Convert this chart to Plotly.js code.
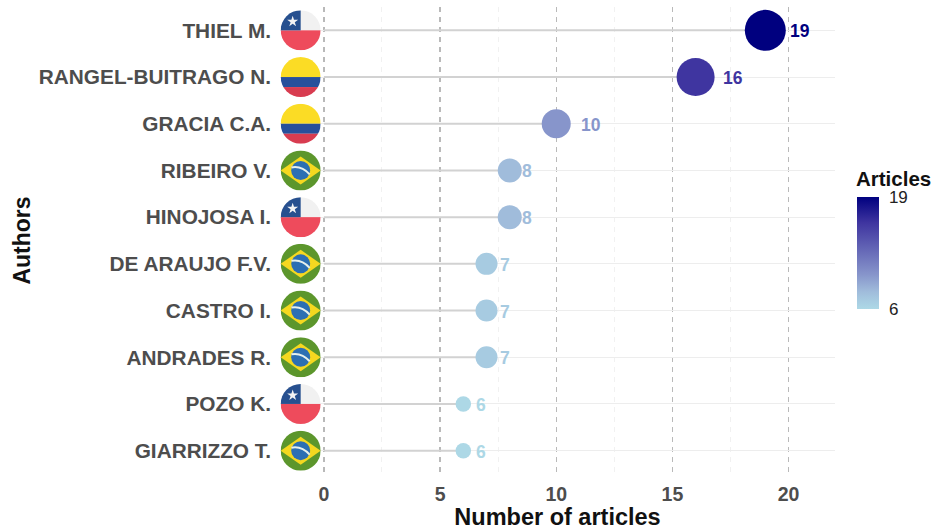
<!DOCTYPE html>
<html>
<head>
<meta charset="utf-8">
<script src="https://cdn.plot.ly/plotly-3.0.1.min.js"></script>
<style>html,body{margin:0;padding:0;background:#fff}#c{width:936px;height:531px}</style>
</head>
<body>
<div id="c"></div>
<script>
const authors = ["THIEL M.","RANGEL-BUITRAGO N.","GRACIA C.A.","RIBEIRO V.","HINOJOSA I.","DE ARAUJO F.V.","CASTRO I.","ANDRADES R.","POZO K.","GIARRIZZO T."];
const articles = [19,16,10,8,8,7,7,7,6,6];
const countries = ["CL","CO","CO","BR","CL","BR","BR","BR","CL","BR"];
const labelNudge = [1.5,1.6,1.5,0.75,0.75,0.78,0.78,0.78,0.78,0.78];
const markerSizes = [41,38,29,24,24,22,22,22,15.5,15.5];
const colorValues = [6,7,8,10,16,19];
const colorHex = ["#add8e6","#a7cbe1","#a0bcdb","#8795cb","#3f35a0","#00007f"];
const flagX = -1;

const vMin = 6, vMax = 19;
const colorscale = colorValues.map((v,i)=>[(v-vMin)/(vMax-vMin), colorHex[i]]);
const colorOf = v => colorHex[colorValues.indexOf(v)];

const flagSvg = {
  CL: `<rect width="80" height="80" fill="#f1f1f1"/><rect y="40" width="80" height="40" fill="#ee4b5c"/><rect width="40" height="40" fill="#27508f"/><polygon fill="#f4f4f4" points="24,11 26.6,19 35,19 28.2,24 30.8,32 24,27 17.2,32 19.8,24 13,19 21.4,19"/>`,
  CO: `<rect width="80" height="40" fill="#fbdc25"/><rect y="40" width="80" height="20" fill="#27509b"/><rect y="60" width="80" height="20" fill="#d83c50"/>`,
  BR: `<rect width="80" height="80" fill="#5c962c"/><polygon points="40,12 80,40 40,68 0,40" fill="#f5d820"/><circle cx="40" cy="40" r="19" fill="#2c6fb3"/><path d="M21.500,34 Q42,30 58,48" stroke="#e6f0ec" stroke-width="4" fill="none"/>`
};
function flagUri(code){
  const svg = `<svg xmlns="http://www.w3.org/2000/svg" width="80" height="80" viewBox="0 0 80 80"><defs><clipPath id="k"><circle cx="40" cy="40" r="40"/></clipPath></defs><g clip-path="url(#k)">${flagSvg[code]}</g></svg>`;
  return "data:image/svg+xml;base64," + btoa(svg);
}

const segX = [], segY = [];
authors.forEach((a,i)=>{ segX.push(0, articles[i], null); segY.push(a, a, null); });

const mL = 280, mR = 101, mT = 7, mB = 57;
const plotW = 936-mL-mR, plotH = 531-mT-mB;

const traces = [
  {type:"scatter", mode:"lines", x:segX, y:segY, hoverinfo:"skip", showlegend:false,
   line:{color:"#d2d2d2", width:2}},
  {type:"scatter", mode:"markers", x:articles, y:authors, showlegend:false,
   marker:{size:markerSizes, color:articles, cmin:vMin, cmax:vMax, colorscale:colorscale, opacity:1, line:{width:0},
     colorbar:{
       tickvals:[6,19], ticktext:["6","19"], ticks:"outside", ticklen:7, tickcolor:"rgba(255,255,255,0)", outlinewidth:0, borderwidth:0,
       thickness:22, thicknessmode:"pixels", len:112, lenmode:"pixels",
       x:(857-mL)/plotW, xanchor:"left", xpad:0,
       y:(531-mB-253)/plotH, yanchor:"middle", ypad:0,
       tickfont:{family:"Liberation Sans", size:17, color:"#222"}
     }}}
];

const valueLabels = articles.map((v,i)=>({
  text:String(v), xref:"x", yref:"y", x:v+labelNudge[i], y:authors[i],
  xanchor:"center", yanchor:"middle", showarrow:false, yshift:-1,
  font:{family:"Liberation Sans", size:17.5, weight:"bold", color:colorOf(v)}
}));

const layout = {
  width:936, height:531, paper_bgcolor:"#fff", plot_bgcolor:"#fff",
  margin:{l:mL, r:mR, t:mT, b:mB, pad:0},
  showlegend:false,
  font:{family:"Liberation Sans"},
  xaxis:{range:[-1.89,22], tickvals:[0,5,10,15,20], zeroline:false, showline:false,
    showgrid:true, gridcolor:"#b9b9b9", griddash:"5px,5px", gridwidth:1.2,
    minor:{tickvals:[2.5,7.5,12.5,17.5], showgrid:true, gridcolor:"#f1f1f1", gridwidth:1},
    ticks:"", ticklabelstandoff:6, tickfont:{family:"Liberation Sans", size:19.5, weight:"bold", color:"#4d4d4d"},
    title:{text:"Number of articles", standoff:4, font:{family:"Liberation Sans", size:23.5, weight:"bold", color:"#111"}}},
  yaxis:{type:"category", categoryorder:"array", categoryarray:authors.slice().reverse(), range:[-0.5,9.5],
    showgrid:true, gridcolor:"#ededed", gridwidth:1, zeroline:false, showline:false,
    ticks:"", ticklabelstandoff:8, tickfont:{family:"Liberation Sans", size:20.8, weight:"bold", color:"#4d4d4d"},
    title:{text:"Authors", standoff:1, font:{family:"Liberation Sans", size:23, weight:"bold", color:"#111"}}},
  annotations:valueLabels.concat([{text:"Articles", xref:"paper", yref:"paper", x:(857-mL)/plotW, y:(531-mB-178)/plotH,
    xanchor:"left", yanchor:"middle", showarrow:false, xshift:-2,
    font:{family:"Liberation Sans", size:20.5, weight:"bold", color:"#111"}, borderpad:0}]),
  images: authors.map((a,i)=>({source:flagUri(countries[i]), xref:"x", yref:"y", x:flagX, y:a,
    sizex:40/23.25, sizey:40/46.7, sizing:"stretch", xanchor:"center", yanchor:"middle", layer:"above"}))
};
Plotly.newPlot("c", traces, layout, {displayModeBar:false, staticPlot:true});
</script>
</body>
</html>
